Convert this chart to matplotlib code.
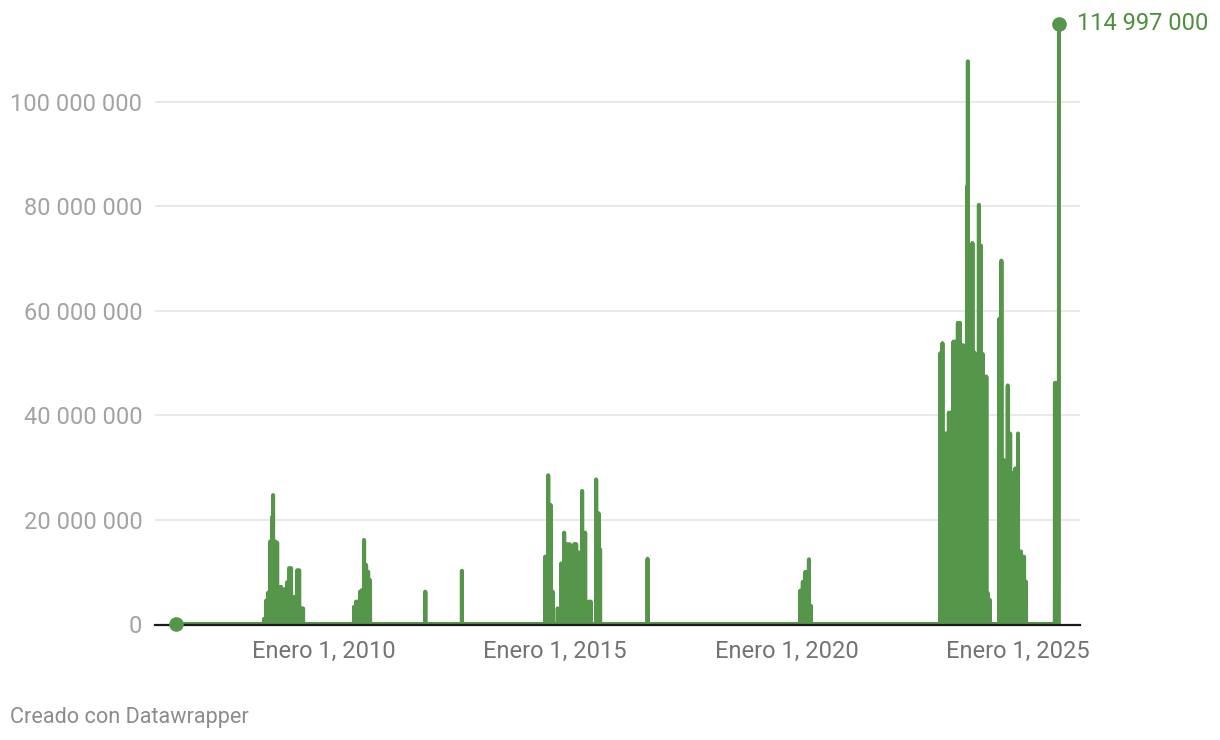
import matplotlib
matplotlib.use("Agg")
import matplotlib.pyplot as plt
import matplotlib.transforms as mtransforms
import pandas as pd

plt.rcParams['font.family'] = ['Roboto', 'DejaVu Sans']

# ---------------- data (values in millions) ----------------
first_date = "2006-10-18"
first_value = 0.0

c2008_dates = ["2008-09-13", "2008-09-29", "2008-10-15", "2008-10-30", "2008-11-15",
               "2008-11-23", "2008-12-09", "2008-12-25", "2009-01-10", "2009-01-26",
               "2009-02-10", "2009-02-26", "2009-03-14", "2009-03-29", "2009-04-14",
               "2009-04-30", "2009-05-16", "2009-06-01", "2009-06-17", "2009-07-02",
               "2009-07-18"]
c2008_values = [1.0, 4.5, 6.0, 15.8, 20.5, 24.7, 15.8, 15.6, 7.1, 7.1,
                5.5, 6.7, 8.0, 10.7, 10.7, 5.2, 5.2, 10.3, 10.3, 3.0, 3.0]

c2010_dates = ["2010-08-25", "2010-09-10", "2010-09-26", "2010-10-11", "2010-10-27",
               "2010-11-12", "2010-11-28", "2010-12-14", "2010-12-29",
               "2012-03-10", "2012-12-24"]
c2010_values = [3.3, 4.3, 4.3, 6.2, 6.5, 16.1, 11.3, 10.0, 8.4, 6.2, 10.2]

c2015_dates = ["2014-10-13", "2014-11-06", "2014-11-26", "2014-12-11", "2015-01-20",
               "2015-02-16", "2015-03-12", "2015-04-05", "2015-04-25", "2015-05-30",
               "2015-06-15", "2015-07-05", "2015-08-01", "2015-08-25", "2015-09-22",
               "2015-10-07", "2015-11-20", "2015-12-09", "2015-12-21", "2016-12-30"]
c2015_values = [12.9, 28.5, 22.8, 6.2, 3.0, 11.6, 17.5, 15.3, 15.3, 15.3,
                15.3, 13.7, 25.5, 17.5, 4.3, 4.3, 27.7, 21.2, 14.3, 12.5]

c2020_dates = ["2020-04-20", "2020-05-10", "2020-05-30", "2020-06-27", "2020-07-12"]
c2020_values = [6.4, 8.1, 10.0, 12.4, 3.5]

c2023_dates = ["2023-05-02", "2023-05-18", "2023-06-07", "2023-06-22", "2023-07-08",
               "2023-07-24", "2023-08-13", "2023-08-28", "2023-09-17", "2023-10-03",
               "2023-10-15", "2023-10-30", "2023-11-19", "2023-12-03", "2023-12-05",
               "2023-12-21", "2024-01-10", "2024-01-26", "2024-02-10", "2024-03-01",
               "2024-03-17", "2024-04-02", "2024-04-17", "2024-04-29", "2024-05-11",
               "2024-05-27"]
c2023_values = [51.9, 53.8, 36.5, 36.5, 40.5, 40.5, 54.1, 54.1, 57.7, 57.7,
                53.4, 53.4, 37.0, 84.0, 107.8, 52.0, 73.0, 52.0, 47.0, 80.3,
                72.5, 51.7, 47.4, 47.4, 5.9, 4.6]

c2024_dates = ["2024-08-10", "2024-08-26", "2024-09-15", "2024-10-15", "2024-11-03",
               "2024-11-25", "2024-12-14", "2025-01-04", "2025-01-28", "2025-02-21",
               "2025-03-08"]
c2024_values = [58.5, 69.6, 31.4, 45.7, 36.5, 28.9, 29.8, 36.5, 13.9, 12.9, 8.1]

c2025_dates = ["2025-10-23", "2025-11-08", "2025-11-24"]
c2025_values = [46.2, 46.2, 114.997]

y_ticks = [0, 20_000_000, 40_000_000, 60_000_000, 80_000_000, 100_000_000]
x_tick_years = [2010, 2015, 2020, 2025]
x_tick_prefix = "Enero 1, "

# ---------------- build the daily line (zeros between reported days) ----------------
ev_dates = pd.to_datetime(c2008_dates + c2010_dates + c2015_dates + c2020_dates
                          + c2023_dates + c2024_dates + c2025_dates)
ev_vals = [v * 1e6 for v in (c2008_values + c2010_values + c2015_values + c2020_values
                             + c2023_values + c2024_values + c2025_values)]
one = pd.Timedelta(days=1)
pts = [(pd.Timestamp(first_date), first_value)]
for i, (d, v) in enumerate(zip(ev_dates, ev_vals)):
    pts.append((d - one, 0.0))
    pts.append((d, v))
    if i < len(ev_vals) - 1:
        pts.append((d + one, 0.0))
pts.sort(key=lambda p: p[0])
xs = [p[0] for p in pts]
ys = [p[1] for p in pts]

# ---------------- figure ----------------
W, H = 1220, 740
fig = plt.figure(figsize=(W / 100, H / 100), dpi=100)
ax_left, ax_right = 155, 1080
y0_px, ymax = 624, 115e6
px_per_m = 5.22
top_px = y0_px - ymax / 1e6 * px_per_m
ax = fig.add_axes([ax_left / W, (H - y0_px) / H, (ax_right - ax_left) / W, (y0_px - top_px) / H])

green = '#55964a'
ax.plot(xs, ys, color=green, lw=2.9, solid_joinstyle='round', solid_capstyle='round',
        zorder=3, clip_on=False)

pad = pd.Timedelta(days=166)
ax.set_xlim(pd.Timestamp(first_date) - pad, ev_dates[-1] + pad)
ax.set_ylim(0, ymax)

# grid
for t in y_ticks[1:]:
    ax.axhline(t, color='#e3e3e3', lw=1.1, zorder=1)
base = ax.axhline(0, color='#1a1a1a', lw=1.6, zorder=4, clip_on=False)
base.set_transform(ax.get_yaxis_transform() +
                   mtransforms.ScaledTranslation(0, -1.0 / 100, fig.dpi_scale_trans))

# endpoints
ax.plot([pd.Timestamp(first_date)], [first_value], 'o', ms=9.5, color=green,
        zorder=5, clip_on=False)
ax.plot([ev_dates[-1]], [ev_vals[-1]], 'o', ms=9.5, color=green, zorder=5, clip_on=False)
ax.annotate(f"{int(round(ev_vals[-1])):,}".replace(",", " "),
            xy=(ev_dates[-1], ev_vals[-1]), xytext=(13, 0), textcoords='offset points',
            ha='left', va='center', fontsize=17, color='#4e8f3f', annotation_clip=False)

# ticks
ax.set_yticks(y_ticks)
ax.set_yticklabels([f"{t:,}".replace(",", " ") for t in y_ticks])
ax.tick_params(axis='y', length=0, pad=9, labelsize=17, labelcolor='#a3a3a3')
ax.set_xticks([pd.Timestamp(f"{y}-01-01") for y in x_tick_years])
ax.set_xticklabels([f"{x_tick_prefix}{y}" for y in x_tick_years])
ax.tick_params(axis='x', length=0, pad=11.5, labelsize=17, labelcolor='#737373')
for s in ax.spines.values():
    s.set_visible(False)
ax.set_facecolor('none')

fig.text(10 / W, 1 - 718 / H, "Creado con Datawrapper", ha='left', va='center',
         fontsize=15.6, color='#8c8c8c')

fig.savefig("out.png", dpi=100, facecolor='white')
